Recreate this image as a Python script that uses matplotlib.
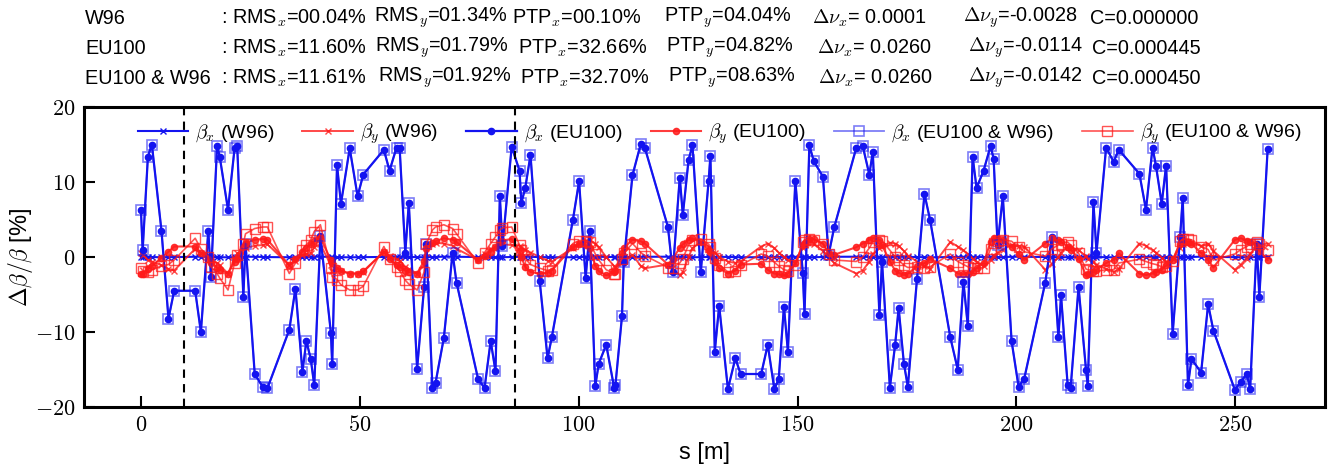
import matplotlib
matplotlib.use("Agg")
import matplotlib.pyplot as plt
from matplotlib.ticker import FuncFormatter, FixedLocator

plt.rcParams['font.family'] = ['Liberation Sans', 'DejaVu Sans']
plt.rcParams['mathtext.fontset'] = 'cm'

s = [0.0, 0.4, 1.6, 2.5, 4.7, 6.3, 7.6, 12.4, 13.7, 15.4,
     16.0, 17.4, 18.0, 19.9, 21.4, 22.0, 23.4, 23.9, 26.0, 27.8,
     28.9, 33.9, 35.3, 36.9, 37.8, 38.8, 39.6, 41.0, 43.4, 43.7,
     44.8, 45.7, 47.7, 49.5, 50.8, 55.5, 56.8, 58.4, 59.1, 60.4,
     61.2, 63.1, 64.7, 65.2, 66.6, 67.3, 69.2, 71.2, 72.1, 77.0,
     78.5, 79.9, 81.0, 82.0, 82.6, 84.7, 86.5, 86.9, 87.8, 89.0,
     91.1, 92.9, 93.9, 98.7, 100.1, 101.6, 102.5, 103.8, 104.6, 106.3,
     108.1, 108.4, 109.9, 110.3, 112.3, 114.2, 115.1, 120.4, 121.5, 123.1,
     123.8, 125.1, 126.0, 127.9, 129.7, 130.1, 131.1, 132.1, 134.1, 135.8,
     137.0, 141.7, 143.2, 144.7, 145.7, 146.9, 147.8, 149.5, 151.2, 151.6,
     152.7, 153.7, 155.8, 157.1, 158.4, 163.4, 164.9, 166.4, 167.2, 168.7,
     169.3, 171.1, 172.3, 173.1, 174.3, 175.2, 177.3, 179.0, 180.3, 184.9,
     186.6, 187.9, 188.9, 190.0, 190.9, 192.5, 194.1, 194.8, 195.7, 196.9,
     198.9, 200.5, 201.8, 206.6, 208.1, 209.6, 210.2, 211.7, 212.4, 214.2,
     215.9, 216.3, 217.6, 218.3, 220.5, 222.2, 223.4, 228.1, 229.6, 231.1,
     231.9, 233.2, 234.2, 235.7, 237.4, 238.0, 239.2, 240.0, 242.2, 243.8,
     245.0, 249.9, 251.3, 252.6, 253.4, 254.9, 255.5, 257.4]

bx_w96 = [0.02, 0.01, -0.01, -0.02, -0.03, -0.02, 0.00, 0.03, 0.04, 0.02,
          0.00, -0.02, -0.03, -0.04, -0.02, 0.01, 0.03, 0.04, 0.03, 0.01,
          -0.01, -0.03, -0.04, -0.02, 0.00, 0.02, 0.03, 0.04, 0.02, 0.00,
          -0.02, -0.03, -0.04, -0.03, -0.01, 0.01, 0.03, 0.04, 0.03, 0.01,
          -0.01, -0.03, -0.04, -0.02, 0.00, 0.02, 0.04, 0.05, 0.03, 0.01,
          -0.01, -0.03, -0.05, -0.04, -0.02, 0.00, 0.02, 0.03, 0.04, 0.02,
          0.00, -0.02, -0.04, -0.03, -0.01, 0.01, 0.03, 0.04, 0.03, 0.01,
          -0.01, -0.03, -0.04, -0.03, -0.01, 0.01, 0.03, 0.04, 0.02, 0.00,
          -0.02, -0.03, -0.04, -0.02, 0.00, 0.02, 0.04, 0.03, 0.01, -0.01,
          -0.03, -0.04, -0.03, -0.01, 0.01, 0.03, 0.04, 0.02, 0.00, -0.02,
          -0.04, -0.03, -0.01, 0.01, 0.03, 0.04, 0.02, 0.00, -0.02, -0.04,
          -0.03, -0.01, 0.02, 0.04, 0.03, 0.01, -0.01, -0.03, -0.04, -0.02,
          0.00, 0.02, 0.04, 0.03, 0.01, -0.01, -0.03, -0.04, -0.02, 0.00,
          0.02, 0.04, 0.03, 0.01, -0.01, -0.03, -0.04, -0.02, 0.00, 0.02,
          0.04, 0.03, 0.01, -0.01, -0.03, -0.04, -0.02, 0.00, 0.02, 0.04,
          0.03, 0.01, -0.01, -0.03, -0.04, -0.02, 0.00, 0.02, 0.04, 0.03,
          0.01, -0.01, -0.03, -0.04, -0.02, 0.00, 0.02, 0.03]

by_w96 = [0.6, 0.3, -0.4, -0.6, -1.1, -1.6, -1.8, 1.1, 0.5, 0.3,
          -0.5, -0.8, -1.1, -2.2, -0.2, 0.5, 0.5, 1.2, 1.5, 1.6,
          1.7, -1.1, -0.5, 0.3, 0.4, 0.5, 1.3, 1.7, -1.1, -1.8,
          -1.5, -1.8, -2.2, -2.2, -2.0, 0.7, 0.1, -0.3, -0.5, -1.3,
          -1.6, -2.2, -1.0, 0.6, 1.7, 1.9, 1.8, 1.5, 1.1, -0.4,
          0.4, 1.1, 1.3, 1.6, 1.7, 1.6, 1.5, 1.3, 1.0, 0.6,
          0.0, -0.5, -0.6, 1.2, 1.8, 2.2, 2.3, 1.8, 1.3, 0.0,
          -1.2, -1.3, -0.8, -0.5, 0.3, -1.2, -1.5, -1.0, -1.8, -2.4,
          -2.0, 0.0, 1.2, 2.0, 1.4, 1.2, 0.6, 0.0, -0.6, -0.8,
          -0.6, 1.4, 1.8, 1.2, 0.6, 0.0, -0.4, -0.8, 1.2, 1.6,
          2.2, 1.8, 0.8, 0.0, -0.8, -2.2, -1.8, -0.6, 0.4, 1.2,
          1.5, 1.9, 1.8, 1.5, 0.8, 0.2, -0.6, -1.2, -1.6, 2.0,
          1.4, 0.9, 0.4, -0.2, -0.6, -1.2, -0.4, 0.2, 0.6, 1.0,
          1.6, 1.5, 1.4, -1.7, -0.9, 0.0, 0.6, 1.4, 1.3, 0.9,
          0.1, -0.2, -0.6, -1.0, -1.6, -2.0, -1.6, 1.8, 1.5, 0.9,
          0.6, -0.1, -0.6, -0.3, 1.2, 1.8, 2.0, 1.9, 1.5, 1.8,
          0.8, -1.7, -1.0, -0.2, 0.4, 1.4, 1.6, 1.8]

bx_eu100 = [6.3, 0.9, 13.4, 15.0, 3.5, -8.2, -4.5, -4.5, -10.0, 3.5,
            -2.6, 14.8, 13.4, 6.3, 14.5, 14.8, -5.3, 1.8, -15.6, -17.3,
            -17.5, -9.7, -4.2, -15.3, -11.2, -13.6, -17.1, 2.8, -10.1, -14.3,
            12.3, 7.1, 14.5, 8.1, 11.0, 14.3, 11.5, 14.6, 14.6, 0.6,
            7.2, -14.9, -4.0, 1.8, -17.4, -16.8, -10.8, 0.5, -3.4, -16.2,
            -17.5, -11.2, -15.2, 8.1, 1.5, 14.7, 11.5, 7.2, 9.2, 13.6,
            -3.2, -13.5, -10.6, 5.0, 10.1, -2.8, 3.5, -17.2, -14.2, -11.7,
            -17.4, -17.1, -7.9, -0.7, 10.9, 15.1, 14.6, 4.0, -2.0, 10.6,
            5.6, 12.9, 14.9, -2.0, 10.2, 13.5, -12.6, -6.5, -17.6, -13.5,
            -15.6, -15.6, -11.7, -17.6, -16.3, -6.6, -12.6, 10.2, -2.1, -7.6,
            14.9, 12.8, 10.7, 0.3, 4.0, 14.5, 14.8, 11.0, 14.0, -7.7,
            -0.6, -17.4, -11.7, -6.8, -14.2, -17.3, -2.9, 8.4, 4.9, -10.7,
            -15.0, -3.3, -9.2, 13.4, 9.2, 11.5, 14.8, 13.1, 1.6, 8.1,
            -11.2, -17.3, -16.2, -3.4, 2.7, -10.7, -5.1, -17.0, -17.4, -4.0,
            -15.0, -17.2, 7.3, 0.6, 14.6, 12.7, 14.3, 11.1, 6.3, 14.6,
            12.1, 7.1, 12.2, -10.2, 2.7, 7.9, -17.1, -13.6, -15.4, -6.3,
            -9.8, -17.7, -16.6, -15.6, -17.6, 1.8, -5.3, 14.4]

by_eu100 = [-2.3, -2.2, -1.6, -1.2, -0.1, 0.7, 1.4, 1.4, 0.6, -0.3,
            -0.8, -1.4, -1.7, -2.2, -0.6, -0.2, 1.3, 1.9, 2.3, 2.4,
            2.3, -1.1, -0.3, 0.7, 1.2, 1.8, 2.1, 2.6, -0.4, -0.8,
            -1.5, -1.9, -2.2, -2.2, -1.9, 0.7, -0.3, -1.0, -1.3, -1.8,
            -2.0, -2.2, -0.5, 1.2, 1.9, 2.1, 2.5, 2.3, 2.0, -0.4,
            0.2, 0.7, 1.4, 2.0, 2.2, 2.4, 0.8, 0.0, -1.3, -2.0,
            -2.2, -2.1, -1.8, 1.4, 1.8, 1.6, 1.2, -1.2, -1.9, -2.4,
            -2.0, -1.8, 0.5, 1.2, 2.3, 2.1, 1.8, -1.0, -0.2, 1.2,
            1.7, 2.3, 2.5, 2.0, 1.0, 0.7, -0.7, -1.5, -2.2, -1.8,
            -1.0, -0.9, -1.7, -2.2, -2.3, -2.4, -2.2, -0.8, 1.6, 1.9,
            2.4, 2.4, 1.8, 0.6, 0.3, 1.3, 1.8, 2.3, 2.5, 2.3,
            1.6, -0.6, -1.8, -2.1, -2.4, -2.2, -1.3, -0.8, -0.3, -1.5,
            -2.2, -2.3, -2.2, -2.0, -1.5, -0.8, 2.0, 2.5, 2.4, 2.3,
            1.4, 0.4, -0.4, 1.8, 2.5, 2.3, 2.0, 1.4, 1.0, -0.2,
            -2.4, -2.2, -2.0, -1.7, -0.8, -0.4, 0.5, -2.2, -2.4, -2.2,
            -2.0, -1.7, -1.1, -0.4, 1.8, 2.0, 2.0, 1.8, 0.5, -0.4,
            -1.4, 2.3, 2.5, 2.2, 2.0, 1.4, 0.8, -0.4]

bx_both = [6.3, 0.9, 13.4, 15.0, 3.5, -8.2, -4.5, -4.5, -10.0, 3.5,
           -2.6, 14.8, 13.4, 6.3, 14.5, 14.8, -5.3, 1.8, -15.6, -17.3,
           -17.5, -9.7, -4.2, -15.3, -11.2, -13.6, -17.1, 2.8, -10.1, -14.3,
           12.3, 7.1, 14.5, 8.1, 11.0, 14.3, 11.5, 14.6, 14.6, 0.6,
           7.2, -14.9, -4.0, 1.8, -17.4, -16.8, -10.8, 0.5, -3.4, -16.2,
           -17.5, -11.2, -15.2, 8.1, 1.5, 14.7, 11.5, 7.2, 9.2, 13.6,
           -3.2, -13.5, -10.6, 5.0, 10.1, -2.8, 3.5, -17.2, -14.2, -11.7,
           -17.4, -17.1, -7.9, -0.7, 10.9, 15.1, 14.6, 4.0, -2.0, 10.6,
           5.6, 12.9, 14.9, -2.0, 10.2, 13.5, -12.6, -6.5, -17.6, -13.5,
           -15.6, -15.6, -11.7, -17.6, -16.3, -6.6, -12.6, 10.2, -2.1, -7.6,
           14.9, 12.8, 10.7, 0.3, 4.0, 14.5, 14.8, 11.0, 14.0, -7.7,
           -0.6, -17.4, -11.7, -6.8, -14.2, -17.3, -2.9, 8.4, 4.9, -10.7,
           -15.0, -3.3, -9.2, 13.4, 9.2, 11.5, 14.8, 13.1, 1.6, 8.1,
           -11.2, -17.3, -16.2, -3.4, 2.7, -10.7, -5.1, -17.0, -17.4, -4.0,
           -15.0, -17.2, 7.3, 0.6, 14.6, 12.7, 14.3, 11.1, 6.3, 14.6,
           12.1, 7.1, 12.2, -10.2, 2.7, 7.9, -17.1, -13.6, -15.4, -6.3,
           -9.8, -17.7, -16.6, -15.6, -17.6, 1.8, -5.3, 14.4]

by_both = [-1.5, -1.8, -2.0, -1.7, -1.2, -1.0, -0.4, 2.5, 1.1, 0.0,
           -1.3, -2.2, -2.8, -4.4, -0.8, 0.3, 1.8, 3.1, 3.8, 4.0,
           4.0, -2.2, -0.8, 1.0, 1.6, 2.3, 3.4, 4.3, -1.5, -2.6,
           -3.0, -3.7, -4.4, -4.4, -3.9, 1.4, -0.2, -1.3, -1.8, -3.1,
           -3.6, -4.4, -2.0, 1.8, 3.6, 4.0, 4.3, 3.8, 3.1, -0.8,
           0.6, 1.8, 2.7, 3.6, 3.9, 4.0, 1.6, 0.9, -0.2, -1.0,
           -1.5, -1.8, -1.7, 1.8, 2.2, 2.2, 2.0, 0.4, -0.4, -1.7,
           -2.2, -2.2, -0.2, 0.5, 1.8, 0.6, 0.2, -1.4, -1.4, -0.8,
           -0.2, 1.6, 2.3, 2.4, 1.7, 1.3, -0.1, -1.0, -2.0, -1.8,
           -1.1, 0.4, 0.1, -0.7, -1.2, -1.7, -1.8, -1.1, 2.0, 2.3,
           2.4, 2.3, 1.8, 0.4, -0.4, -0.6, 0.0, 1.2, 2.0, 2.3,
           2.2, 0.9, 0.0, -0.4, -1.1, -1.4, -1.3, -1.4, -1.3, 0.4,
           -0.6, -1.0, -1.3, -1.5, -1.5, -1.4, 1.1, 1.9, 2.1, 2.3,
           2.1, 1.3, 0.7, 0.1, 1.1, 1.6, 1.8, 2.0, 1.6, 0.5,
           -1.6, -1.7, -1.8, -1.9, -1.7, -1.7, -0.8, -0.3, -0.6, -0.9,
           -1.0, -1.3, -1.2, -0.5, 2.1, 2.4, 2.4, 2.3, 1.4, 1.0,
           -0.4, 0.4, 1.0, 1.4, 1.7, 2.0, 1.7, 1.0]

dash_s = [9.8, 85.4]

labels = [r'$\beta_x$ (W96)', r'$\beta_y$ (W96)', r'$\beta_x$ (EU100)',
          r'$\beta_y$ (EU100)', r'$\beta_x$ (EU100 & W96)', r'$\beta_y$ (EU100 & W96)']

info_names = ['W96', 'EU100', 'EU100 & W96']
rms_x = ['00.04', '11.60', '11.61']
rms_y = ['01.34', '01.79', '01.92']
ptp_x = ['00.10', '32.66', '32.70']
ptp_y = ['04.04', '04.82', '08.63']
dnu_x = [' 0.0001', ' 0.0260', ' 0.0260']
dnu_y = ['-0.0028', '-0.0114', '-0.0142']
coup = ['0.000000', '0.000445', '0.000450']

W, H = 1334, 472
fig = plt.figure(figsize=(W / 100, H / 100), dpi=100)
ax = fig.add_axes([84 / W, 1 - 407 / H, (1325 - 84) / W, 300 / H])

blue = '#1414f0'
red = '#ff1a1a'
ax.plot(s, bx_w96, color=blue, marker='x', ms=4, mew=1.0, lw=1.5, label=labels[0])
ax.plot(s, by_w96, color=red, marker='x', ms=4, mew=1.0, lw=1.4, alpha=0.8, label=labels[1])
ax.plot(s, bx_eu100, color=blue, marker='o', ms=4.5, lw=1.6, label=labels[2])
ax.plot(s, by_eu100, color=red, marker='o', ms=4.5, lw=1.5, alpha=0.85, label=labels[3])
ax.plot(s, bx_both, color=blue, marker='s', ms=7, mfc='none', mew=1.2, lw=1.3, alpha=0.55, label=labels[4])
ax.plot(s, by_both, color=red, marker='s', ms=7, mfc='none', mew=1.0, lw=1.2, alpha=0.75, label=labels[5])

for xv in dash_s:
    ax.axvline(xv, color='black', ls='--', lw=1.5, dashes=(4, 3))

ax.set_xlim(-13, 270.5)
ax.set_ylim(-20, 20)
ax.xaxis.set_major_locator(FixedLocator([0, 50, 100, 150, 200, 250]))
ax.yaxis.set_major_locator(FixedLocator([-20, -10, 0, 10, 20]))
fmt = FuncFormatter(lambda v, p: r'$%d$' % int(round(v)))
ax.xaxis.set_major_formatter(fmt)
ax.yaxis.set_major_formatter(fmt)
ax.tick_params(direction='in', length=8, width=1.5, labelsize=16, top=False, right=False, pad=6)
for sp in ax.spines.values():
    sp.set_linewidth(2.2)

ax.set_xlabel('s [m]', fontsize=17, labelpad=4)
ax.set_ylabel(r'$\Delta\beta/\beta$ [%]', fontsize=17, labelpad=0)

ax.legend(loc='upper center', bbox_to_anchor=(0.512, 1.01), ncol=6, frameon=False,
          fontsize=14, handlelength=2.6, columnspacing=1.45, handletextpad=0.35)

rows_y = [18, 48, 78]
col_x = [[221, 374, 512, 664, 812, 963, 1090],
         [221, 375, 518, 666, 817, 968, 1092],
         [221, 378, 520, 668, 818, 968, 1092]]
fs = 14.3
for i in range(3):
    y = 1 - rows_y[i] / H
    xs = col_x[i]
    fig.text(85 / W, y, info_names[i], fontsize=fs, va='center')
    fig.text(xs[0] / W, y, ': RMS$_x$=%s%%' % rms_x[i], fontsize=fs, va='center')
    fig.text(xs[1] / W, y, 'RMS$_y$=%s%%' % rms_y[i], fontsize=fs, va='center')
    fig.text(xs[2] / W, y, 'PTP$_x$=%s%%' % ptp_x[i], fontsize=fs, va='center')
    fig.text(xs[3] / W, y, 'PTP$_y$=%s%%' % ptp_y[i], fontsize=fs, va='center')
    fig.text(xs[4] / W, y, r'$\Delta\nu_x$=%s' % dnu_x[i], fontsize=fs, va='center')
    fig.text(xs[5] / W, y, r'$\Delta\nu_y$=%s' % dnu_y[i], fontsize=fs, va='center')
    fig.text(xs[6] / W, y, 'C=%s' % coup[i], fontsize=fs, va='center')

fig.savefig('out.png', dpi=100)
